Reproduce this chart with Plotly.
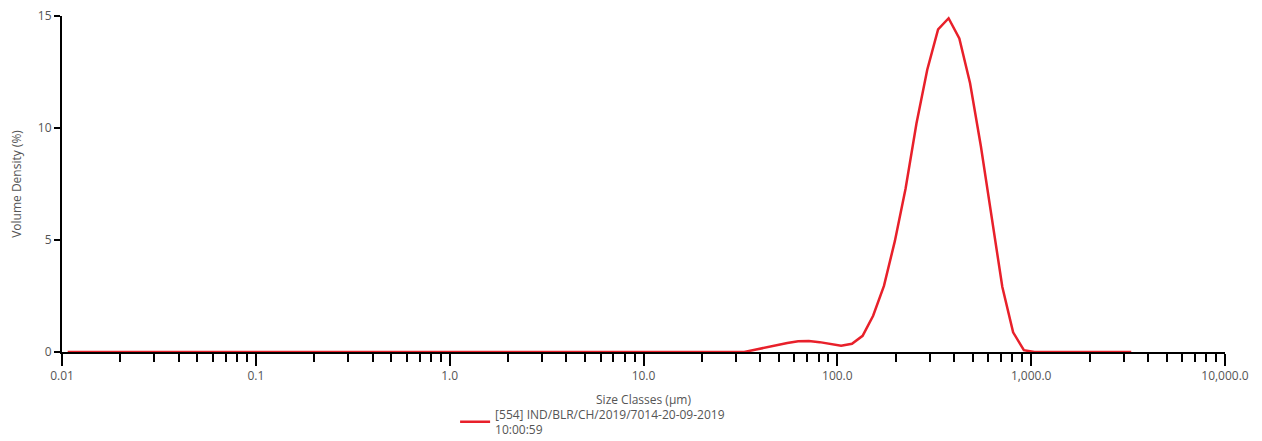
import plotly.graph_objects as go

# Size class midpoints (µm) and volume density (%)
sizes = [0.0107, 33.1, 37.6, 42.8, 48.6, 55.2, 62.8, 71.3, 81.0, 92.1, 104.6, 119, 135, 153, 174,
         198, 225, 256, 291, 331, 375, 426, 484, 550, 625, 710, 807, 917, 1040, 3283]
density = [0, 0, 0.1, 0.21, 0.31, 0.40, 0.48, 0.49, 0.44, 0.36, 0.28, 0.37, 0.72, 1.62, 2.95,
           4.95, 7.3, 10.2, 12.6, 14.4, 14.9, 14.0, 12.0, 9.2, 6.0, 2.9, 0.88, 0.08, 0, 0]

x_tickvals = [0.01, 0.1, 1, 10, 100, 1000, 10000]
x_ticktext = ["0.01", "0.1", "1.0", "10.0", "100.0", "1,000.0", "10,000.0"]
y_tickvals = [0, 5, 10, 15]
series_name = "[554] IND/BLR/CH/2019/7014-20-09-2019<br>10:00:59"

fig = go.Figure()
fig.add_trace(go.Scatter(x=sizes, y=density, mode="lines", name=series_name,
                         line=dict(color="#e8202a", width=2.5)))

font = dict(family="Open Sans, Noto Sans, sans-serif", size=12, color="#555555")
fig.update_layout(
    width=1254, height=433,
    margin=dict(l=54, r=37, t=8, b=89, autoexpand=False),
    plot_bgcolor="white", paper_bgcolor="white",
    font=font,
    showlegend=True,
    legend=dict(x=0.338, y=-0.142, xanchor="left", yanchor="top",
                font=dict(family="Open Sans, Noto Sans, sans-serif", size=12, color="#555555"),
                itemwidth=30, tracegroupgap=0),
    xaxis=dict(type="log", range=[-2, 4], showgrid=False, zeroline=False, automargin=False,
               showline=True, linecolor="black", linewidth=2,
               tickmode="array", tickvals=x_tickvals, ticktext=x_ticktext,
               ticks="outside", ticklen=12, tickwidth=2, tickcolor="black",
               ticklabeloverflow="allow",
               minor=dict(ticks="outside", ticklen=8, tickwidth=2, tickcolor="black", dtick="D1"),
               title=dict(text="Size Classes (µm)", standoff=12, font=dict(size=12, color="#555555"))),
    yaxis=dict(range=[0, 15.001], showgrid=False, zeroline=False, automargin=False,
               showline=True, linecolor="black", linewidth=2,
               tickmode="array", tickvals=y_tickvals,
               ticks="outside", ticklen=6, tickwidth=2, tickcolor="black",
               ticklabeloverflow="allow",
               title=dict(text="Volume Density (%)", standoff=14, font=dict(size=12, color="#555555"))),
)

fig.write_html("out.html")
